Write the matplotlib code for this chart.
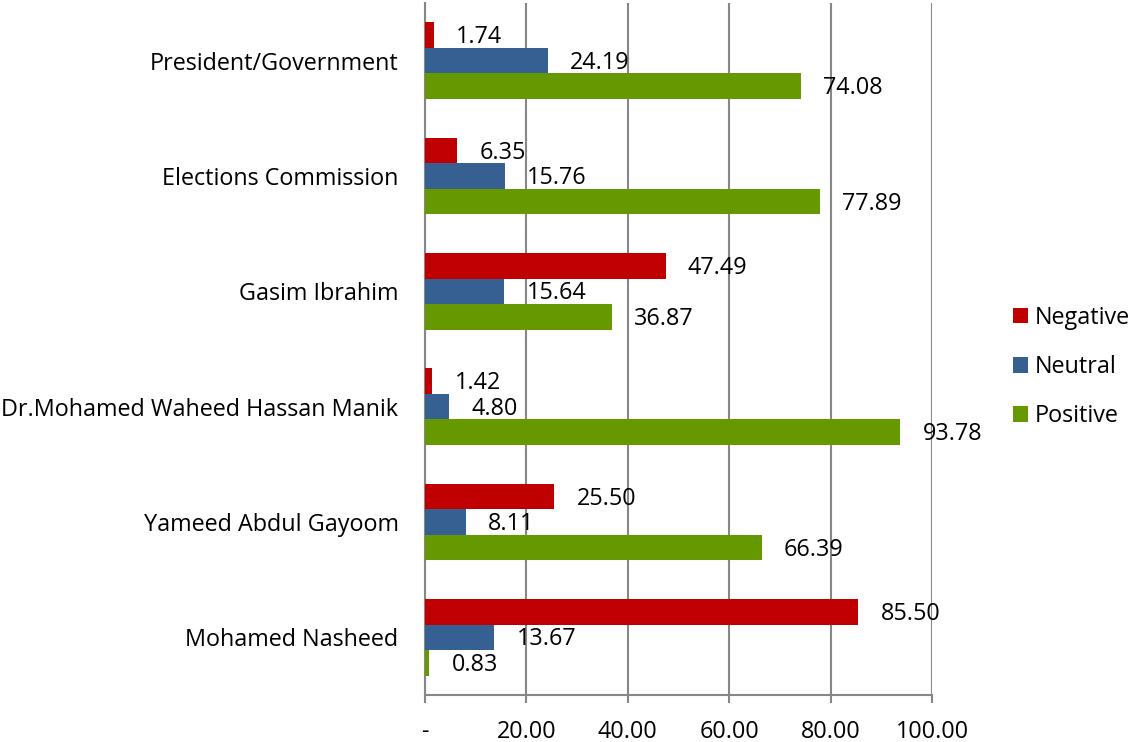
import matplotlib.pyplot as plt
import numpy as np

# data
categories = ["President/Government", "Elections Commission", "Gasim Ibrahim",
              "Dr.Mohamed Waheed Hassan Manik", "Yameed Abdul Gayoom", "Mohamed Nasheed"]
negative = [1.74, 6.35, 47.49, 1.42, 25.50, 85.50]
neutral = [24.19, 15.76, 15.64, 4.80, 8.11, 13.67]
positive = [74.08, 77.89, 36.87, 93.78, 66.39, 0.83]
series_names = ["Negative", "Neutral", "Positive"]
colors = ["#C00000", "#376092", "#669900"]
xticks = [0, 20, 40, 60, 80, 100]

plt.rcParams['font.family'] = ['Open Sans', 'DejaVu Sans']
grey = "#878787"
fs = 16.8

fig = plt.figure(figsize=(11.33, 7.42), dpi=100)
ax = fig.add_axes([0.3751, 0.0633, 0.4475, 0.9327])

y = np.arange(len(categories))
h = 0.221
for i, (vals, name, c) in enumerate(zip([negative, neutral, positive], series_names, colors)):
    pos = y + (i - 1) * h
    ax.barh(pos, vals, height=h, color=c, label=name, zorder=3)
    for v, p in zip(vals, pos):
        ax.annotate(f"{v:.2f}", xy=(v, p), xytext=(16, -1.5), textcoords="offset points",
                    ha="left", va="center", fontsize=fs, color="black")

ax.set_xlim(0, 100)
ax.set_ylim(len(categories) - 0.5, -0.5)
ax.set_xticks(xticks)
ax.set_xticklabels(["-" if t == 0 else f"{t:.2f}" for t in xticks], fontsize=fs)
ax.set_yticks(y)
ax.set_yticklabels(categories, fontsize=fs)

ax.grid(axis="x", color=grey, linewidth=1.5, zorder=0)
for s in ["top", "right"]:
    ax.spines[s].set_visible(False)
for s in ["left", "bottom"]:
    ax.spines[s].set_color(grey)
    ax.spines[s].set_linewidth(1.5)
ax.tick_params(axis="y", length=0, pad=19)
ax.tick_params(axis="x", direction="out", length=6, width=1.5, color=grey, pad=12)

fig.legend(loc="center left", bbox_to_anchor=(0.894, 0.5054), frameon=False,
           fontsize=fs, handlelength=0.65, handleheight=0.65, handletextpad=0.3,
           labelspacing=1.08, borderpad=0, borderaxespad=0)

fig.savefig("out.png", dpi=100)
